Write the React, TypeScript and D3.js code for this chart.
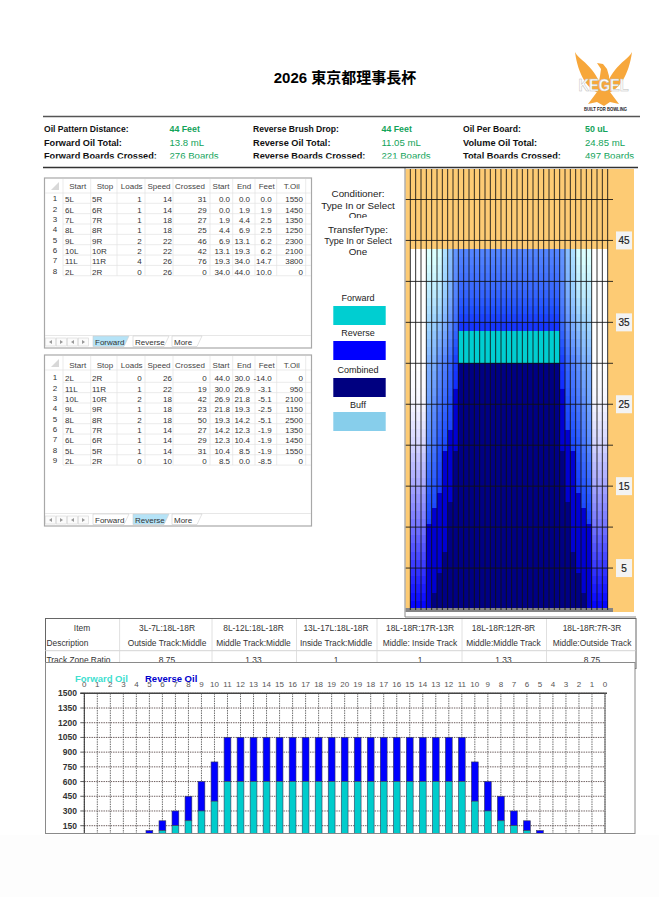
import React from 'react';
import * as d3 from 'd3';

const W = 659;
const H = 897;
const FONT = '"Liberation Sans", Arial, sans-serif';

// ---- header
const titleText = '2026 東京都理事長杯';
const infoLabels = [
  ['Oil Pattern Distance:', 'Reverse Brush Drop:', 'Oil Per Board:'],
  ['Forward Oil Total:', 'Reverse Oil Total:', 'Volume Oil Total:'],
  ['Forward Boards Crossed:', 'Reverse Boards Crossed:', 'Total Boards Crossed:'],
];
const infoValues = [
  ['44 Feet', '44 Feet', '50 uL'],
  ['13.8 mL', '11.05 mL', '24.85 mL'],
  ['276 Boards', '221 Boards', '497 Boards'],
];

// ---- load tables
const tableHeaders = ['Start', 'Stop', 'Loads', 'Speed', 'Crossed', 'Start', 'End', 'Feet', 'T.Oil'];

const fwdBoard = [5, 6, 7, 8, 9, 10, 11, 2];
const fwdLoads = [1, 1, 1, 1, 2, 2, 4, 0];
const fwdSpeed = [14, 14, 18, 18, 22, 22, 26, 26];
const fwdCrossed = [31, 29, 27, 25, 46, 42, 76, 0];
const fwdStart = [0.0, 0.0, 1.9, 4.4, 6.9, 13.1, 19.3, 34.0];
const fwdEnd = [0.0, 1.9, 4.4, 6.9, 13.1, 19.3, 34.0, 44.0];
const fwdFeet = [0.0, 1.9, 2.5, 2.5, 6.2, 6.2, 14.7, 10.0];
const fwdOil = [1550, 1450, 1350, 1250, 2300, 2100, 3800, 0];

const revBoard = [2, 11, 10, 9, 8, 7, 6, 5, 2];
const revLoads = [0, 1, 2, 1, 2, 1, 1, 1, 0];
const revSpeed = [26, 22, 18, 18, 18, 14, 14, 14, 10];
const revCrossed = [0, 19, 42, 23, 50, 27, 29, 31, 0];
const revStart = [44.0, 30.0, 26.9, 21.8, 19.3, 14.2, 12.3, 10.4, 8.5];
const revEnd = [30.0, 26.9, 21.8, 19.3, 14.2, 12.3, 10.4, 8.5, 0.0];
const revFeet = [-14.0, -3.1, -5.1, -2.5, -5.1, -1.9, -1.9, -1.9, -8.5];
const revOil = [0, 950, 2100, 1150, 2500, 1350, 1450, 1550, 0];

// ---- buff shade, 0 = white, 1 = full blue
const buffFeet = [44, 39, 34, 30, 25, 20, 15, 10, 5, 0];
const buffOuter = [0, 0, 0, 0, 0.04, 0.17, 0.35, 0.55, 0.79, 1];
const buffBoard5 = [0.17, 0.28, 0.4, 0.5, 0.55, 0.63, 0.75, 0.85, 0.9, 0.95];
const buffBoard6 = [0.17, 0.27, 0.42, 0.5, 0.6, 0.68, 0.78, 0.85, 0.9, 0.95];
const buffBoard7 = [0.2, 0.3, 0.47, 0.6, 0.68, 0.78, 0.85, 0.9, 0.95, 1];
const buffBoard8 = [0.33, 0.4, 0.52, 0.65, 0.73, 0.82, 0.88, 0.92, 0.95, 1];
const buffBoard9 = [0.45, 0.5, 0.62, 0.73, 0.8, 0.85, 0.9, 0.95, 1, 1];
const buffBoard10 = [0.58, 0.63, 0.73, 0.85, 0.92, 0.95, 1, 1, 1, 1];
const buffInner = [0.63, 0.72, 0.88, 0.95, 1, 1, 1, 1, 1, 1];

const footLabels = [45, 35, 25, 15, 5];
const footLines = [5, 10, 15, 20, 25, 30, 35, 40, 45, 50];

const legendItems = ['Forward', 'Reverse', 'Combined', 'Buff'];

// ---- track zone table
const trackItems = ['3L-7L:18L-18R', '8L-12L:18L-18R', '13L-17L:18L-18R', '18L-18R:17R-13R', '18L-18R:12R-8R', '18L-18R:7R-3R'];
const trackDescriptions = [
  'Outside Track:Middle',
  'Middle Track:Middle',
  'Inside Track:Middle',
  'Middle: Inside Track',
  'Middle:Middle Track',
  'Middle:Outside Track',
];
const trackRatios = ['8.75', '1.33', '1', '1', '1.33', '8.75'];

// ---- oil graph, board 0 to 20 and back to 0
const graphBoards = [0, 1, 2, 3, 4, 5, 6, 7, 8, 9, 10, 11, 12, 13, 14, 15, 16, 17, 18, 19, 20, 19, 18, 17, 16, 15, 14, 13, 12, 11, 10, 9, 8, 7, 6, 5, 4, 3, 2, 1, 0];
const graphForward = [0, 0, 0, 0, 0, 50, 100, 150, 200, 300, 400, 600, 600, 600, 600, 600, 600, 600, 600, 600, 600, 600, 600, 600, 600, 600, 600, 600, 600, 600, 400, 300, 200, 150, 100, 50, 0, 0, 0, 0, 0];
const graphReverse = [0, 0, 0, 0, 0, 50, 100, 150, 250, 300, 400, 450, 450, 450, 450, 450, 450, 450, 450, 450, 450, 450, 450, 450, 450, 450, 450, 450, 450, 450, 400, 300, 250, 150, 100, 50, 0, 0, 0, 0, 0];
const graphTicks = [150, 300, 450, 600, 750, 900, 1050, 1200, 1350, 1500];

const COLORS = {
  forward: '#00CED1',
  reverse: '#0000FF',
  combined: '#000080',
  buff: '#87CEEB',
  solid: '#0000D2',
  lane: '#000084',
  orange: '#FDCB74',
  green: '#12A35A',
};

// ---- heat map scales
const boardCols = d3.range(39);
const colX = d3.scaleLinear().domain([0, 39]).range([405, 613]);
const footY = d3.scaleLinear().domain([0, 50]).range([609, 199.5]);
const innerRamp = d3
  .scaleLinear<string>()
  .domain([0, 0.2, 0.4, 0.6, 0.8, 1])
  .range(['#ffffff', '#d8ffff', '#99d0ff', '#5f90ff', '#2050ff', '#0000ff']);
const outerRamp = d3
  .scaleLinear<string>()
  .domain([0, 0.33, 0.67, 1])
  .range(['#ffffff', '#aaaaff', '#5555ff', '#0000ff']);

const colBoard = (i: number) => (i <= 19 ? i + 1 : 39 - i);

const buffFor = (board: number) => {
  if (board <= 4) return buffOuter;
  if (board === 5) return buffBoard5;
  if (board === 6) return buffBoard6;
  if (board === 7) return buffBoard7;
  if (board === 8) return buffBoard8;
  if (board === 9) return buffBoard9;
  if (board === 10) return buffBoard10;
  return buffInner;
};

const oilReach = (boards: number[], oil: number[], feet: number[], board: number) =>
  d3.max(boards.map((b, i) => (b <= board && oil[i] > 0 ? feet[i] : 0))) || 0;

// ---- graph scales
const graphX = d3.scaleLinear().domain([0, 40]).range([84.3, 605]);
const graphY = d3.scaleLinear().domain([0, 1500]).range([840.4, 693.3]);

// ---- small parts
const colLines = [63, 90.7, 117, 145, 173, 210, 232.7, 255, 276.7, 305.7];
const headerX = [77.7, 105, 131.7, 159, 190, 221, 244, 266.7, 291.7];
const cellX = [65, 92, 141.7, 172, 206.7, 230, 250, 271.7, 303];

interface ITableProps {
  top: number;
  bottom: number;
  headerY: number;
  rowY: number;
  board: number[];
  loads: number[];
  speed: number[];
  crossed: number[];
  start: number[];
  end: number[];
  feet: number[];
  oil: number[];
  activeTab: string;
}

const LoadTable: React.FC<ITableProps> = ({ top, bottom, headerY, rowY, board, loads, speed, crossed, start, end, feet, oil, activeTab }) => {
  const step = 10.35;
  const tabTop = bottom - 12.5;
  const tabs = [
    { name: 'Forward', x: 93, w: 36 },
    { name: 'Reverse', x: 133, w: 36 },
    { name: 'More', x: 172, w: 30 },
  ];
  const lastRow = rowY + step * (board.length - 1) + 4;
  return (
    <g fontFamily={FONT} fontSize={8}>
      <rect x={44.5} y={top} width={267} height={bottom - top} fill="#fff" stroke="#a8a8a8" strokeWidth={1.2} />
      {colLines.map((x) => (
        <line key={x} x1={x} x2={x} y1={top + 1} y2={lastRow} stroke="#e2e2e2" strokeWidth={0.7} />
      ))}
      <line x1={45} x2={311} y1={top + 15} y2={top + 15} stroke="#e2e2e2" strokeWidth={0.7} />
      {board.map((_, r) => (
        <line key={r} x1={63} x2={311} y1={rowY + step * r + 4} y2={rowY + step * r + 4} stroke="#e2e2e2" strokeWidth={0.7} />
      ))}
      <path d={`M59 ${top + 4} L59 ${top + 12} L51 ${top + 12} Z`} fill="#d8d8d8" />
      {tableHeaders.map((h, i) => (
        <text key={i} x={headerX[i]} y={headerY + 3} textAnchor="middle" fill="#444">
          {h}
        </text>
      ))}
      {board.map((b, r) => {
        const y = rowY + step * r + 3;
        const cells = [
          `${b}L`,
          `${b}R`,
          `${loads[r]}`,
          `${speed[r]}`,
          `${crossed[r]}`,
          start[r].toFixed(1),
          end[r].toFixed(1),
          feet[r].toFixed(1),
          `${oil[r]}`,
        ];
        return (
          <g key={r} fill="#333">
            <text x={55} y={y - 1} textAnchor="middle">
              {r + 1}
            </text>
            {cells.map((c, i) => (
              <text key={i} x={cellX[i]} y={y} textAnchor={i < 2 ? 'start' : 'end'}>
                {c}
              </text>
            ))}
          </g>
        );
      })}
      <line x1={45} x2={311} y1={tabTop} y2={tabTop} stroke="#dcdcdc" strokeWidth={0.7} />
      {[45, 56, 67, 78].map((x, i) => (
        <g key={x}>
          <rect x={x + 0.5} y={tabTop + 2.5} width={10} height={8} fill="#fbfbfb" stroke="#d4d4d4" strokeWidth={0.6} />
          <path
            d={i % 2 === 0 ? `M${x + 7} ${tabTop + 4.5} L${x + 4} ${tabTop + 6.5} L${x + 7} ${tabTop + 8.5} Z` : `M${x + 4} ${tabTop + 4.5} L${x + 7} ${tabTop + 6.5} L${x + 4} ${tabTop + 8.5} Z`}
            fill="#999"
          />
        </g>
      ))}
      {tabs.map((t) => (
        <g key={t.name}>
          <path
            d={`M${t.x} ${tabTop + 0.5} L${t.x + t.w} ${tabTop + 0.5} L${t.x + t.w - 5} ${tabTop + 11} L${t.x} ${tabTop + 11} Z`}
            fill={t.name === activeTab ? '#B5E3F7' : '#fff'}
            stroke="#cfcfcf"
            strokeWidth={0.6}
          />
          <text x={t.x + 2} y={tabTop + 9} fill="#333" fontSize={8}>
            {t.name}
          </text>
        </g>
      ))}
    </g>
  );
};

const HeatMap: React.FC = () => {
  const feetRows = d3.range(44);
  return (
    <g>
      <rect x={405} y={169} width={229} height={443} fill={COLORS.orange} />
      {/* buff shading, one cell per foot */}
      <g shapeRendering="crispEdges">
        {boardCols
          .filter((i) => colBoard(i) >= 2)
          .map((i) => {
            const board = colBoard(i);
            const level = d3.scaleLinear().domain(buffFeet).range(buffFor(board));
            const ramp = board <= 4 ? outerRamp : innerRamp;
            return feetRows.map((f) => (
              <rect key={`${i}-${f}`} x={colX(i)} y={footY(f + 1)} width={colX(i + 1) - colX(i)} height={footY(f) - footY(f + 1)} fill={ramp(level(f + 0.5))} />
            ));
          })}
        {/* oil from the load tables */}
        {boardCols.map((i) => {
          const board = colBoard(i);
          const fwdTop = oilReach(fwdBoard, fwdOil, fwdEnd, board);
          const revTop = oilReach(revBoard, revOil, revStart, board);
          const x = colX(i);
          const w = colX(i + 1) - x;
          const both = Math.min(fwdTop, revTop);
          return (
            <g key={i}>
              {fwdTop > revTop && <rect x={x} y={footY(fwdTop)} width={w} height={footY(revTop) - footY(fwdTop)} fill={COLORS.forward} />}
              {revTop > fwdTop && <rect x={x} y={footY(revTop)} width={w} height={footY(fwdTop) - footY(revTop)} fill={COLORS.solid} />}
              {both > 0 && <rect x={x} y={footY(both)} width={w} height={footY(0) - footY(both)} fill={COLORS.lane} />}
            </g>
          );
        })}
      </g>
      <rect x={405} y={608} width={208} height={4} fill="#858585" />
      {d3.range(1, 39).map((i) => (
        <line key={i} x1={colX(i)} x2={colX(i)} y1={169} y2={610} stroke="#111" strokeWidth={1} strokeOpacity={0.85} />
      ))}
      {footLines.map((f) => (
        <line key={f} x1={405} x2={613} y1={footY(f)} y2={footY(f)} stroke="#111" strokeWidth={1} strokeOpacity={0.85} />
      ))}
      {footLabels.map((f) => (
        <g key={f}>
          <rect x={616} y={footY(f) - 9} width={16} height={18} fill="#f3f3f3" />
          <text x={624} y={footY(f) + 3.5} textAnchor="middle" fontFamily={FONT} fontSize={10} fill="#222" stroke="#222" strokeWidth={0.2}>
            {f}
          </text>
        </g>
      ))}
      <line x1={405} x2={405} y1={168} y2={617} stroke="#b0b0b0" strokeWidth={1.5} />
      <line x1={405} x2={636} y1={617} y2={617} stroke="#888" strokeWidth={1} />
    </g>
  );
};

const OilGraph: React.FC = () => {
  const barW = 6.8;
  return (
    <g clipPath="url(#graphClip)" fontFamily={FONT}>
      {graphTicks.map((t) => (
        <line key={t} x1={graphX(0)} x2={graphX(40)} y1={graphY(t)} y2={graphY(t)} stroke="#5a4a4a" strokeWidth={0.9} strokeDasharray="1.4 1" />
      ))}
      {graphBoards.map((_, i) => (
        <line key={i} x1={graphX(i)} x2={graphX(i)} y1={graphY(1500)} y2={840} stroke="#555" strokeWidth={0.9} strokeDasharray="1.4 1" />
      ))}
      {graphBoards.map((_, i) => {
        const f = graphForward[i];
        const r = graphReverse[i];
        if (f + r === 0) return null;
        return (
          <g key={i} stroke="#3a3a5a" strokeWidth={0.6}>
            <rect x={graphX(i) - barW / 2} y={graphY(f + r)} width={barW} height={graphY(f) - graphY(f + r)} fill={COLORS.reverse} />
            <rect x={graphX(i) - barW / 2} y={graphY(f)} width={barW} height={graphY(0) - graphY(f)} fill="#00CCCC" />
          </g>
        );
      })}
      <line x1={graphX(0) - 4} x2={graphX(40) + 2} y1={graphY(1500)} y2={graphY(1500)} stroke="#444" strokeWidth={1.4} />
      <line x1={graphX(0)} x2={graphX(0)} y1={graphY(1500)} y2={840} stroke="#333" strokeWidth={1} />
      <line x1={graphX(40)} x2={graphX(40)} y1={graphY(1500)} y2={840} stroke="#666" strokeWidth={1} />
      {graphTicks.map((t) => (
        <g key={t}>
          <line x1={graphX(0) - 4} x2={graphX(0)} y1={graphY(t)} y2={graphY(t)} stroke="#333" strokeWidth={0.8} />
          <text x={77} y={graphY(t) + 3} textAnchor="end" fontSize={8.5} fontWeight="bold" fill="#333">
            {t}
          </text>
        </g>
      ))}
      {graphBoards.map((b, i) => (
        <text key={i} x={graphX(i)} y={687} textAnchor="middle" fontSize={8} fill="#555">
          {b}
        </text>
      ))}
      <text x={75} y={682} fontSize={9.5} fontWeight="bold" fill="#40E0D0">
        Forward Oil
      </text>
      <text x={145} y={682} fontSize={9.5} fontWeight="bold" fill="#0000CD">
        Reverse Oil
      </text>
    </g>
  );
};

const Logo: React.FC = () => (
  <g>
    <path d="M575 52 C578 58 586 62 592 70 C595 74 597 77 599 81 L599 93 C588 90 578 75 575 52 Z" fill="#F7A73B" />
    <path d="M632 52 C629 58 621 62 615 70 C612 74 610 77 608 81 L608 93 C619 90 629 75 632 52 Z" fill="#F7A73B" />
    <path d="M597 63 L603 64 L607 69 L609 76 L610 92 L619 104 L610 102 L604 106 L597 102 L588 104 L597 92 L600 76 L601 69 Z" fill="#F7A73B" />
    <text x={603.5} y={91} textAnchor="middle" fontFamily={FONT} fontSize={16} fontWeight="bold" fill="#fff" stroke="#bdbdbd" strokeWidth={0.5} textLength={50} lengthAdjust="spacingAndGlyphs">
      KEGEL
    </text>
    <text x={605.5} y={111} textAnchor="middle" fontFamily={FONT} fontSize={5} fontWeight="bold" fill="#222" textLength={43} lengthAdjust="spacingAndGlyphs">
      BUILT FOR BOWLING
    </text>
  </g>
);

const App: React.FC = () => {
  const infoLabelX = [44, 253, 463];
  const infoValueX = [169.5, 381.5, 585];
  const infoY = [132, 145.5, 159];
  const trackX = [167, 253.5, 336, 420, 503.5, 592];
  const trackLines = [119.6, 212, 296.5, 377, 462, 546.5];
  const legendY = [306, 341, 378, 412];
  const legendTextY = [301, 336, 373, 408];
  const legendFill = [COLORS.forward, COLORS.reverse, COLORS.combined, COLORS.buff];

  return (
    <svg width={W} height={H} viewBox={`0 0 ${W} ${H}`} style={{ position: 'absolute', left: 0, top: 0, background: '#fff' }}>
      <defs>
        <clipPath id="infoClip">
          <rect x={0} y={100} width={W} height={58.5} />
        </clipPath>
        <clipPath id="oneClip">
          <rect x={320} y={180} width={85} height={38} />
        </clipPath>
        <clipPath id="trackClip">
          <rect x={40} y={615} width={600} height={47} />
        </clipPath>
        <clipPath id="graphClip">
          <rect x={46} y={664} width={589} height={169} />
        </clipPath>
      </defs>
      <rect x={0} y={835} width={W} height={62} fill="#fdfdfd" />

      <text x={345} y={83} textAnchor="middle" fontFamily='"Liberation Sans", "Noto Sans CJK JP", sans-serif' fontSize={15} fontWeight="bold" fill="#000">
        {titleText}
      </text>
      <Logo />

      <line x1={43} x2={640} y1={116.5} y2={116.5} stroke="#555" strokeWidth={1.6} />
      <g clipPath="url(#infoClip)" fontFamily={FONT}>
        {infoLabels.map((row, r) =>
          row.map((label, c) => (
            <g key={label}>
              <text x={infoLabelX[c]} y={infoY[r]} fontSize={r === 0 ? 8.6 : 9.2} fontWeight="bold" fill="#111">
                {label}
              </text>
              <text x={infoValueX[c]} y={infoY[r]} fontSize={r === 0 ? 8.8 : 9.6} fontWeight={r === 0 ? 'bold' : 'normal'} fill={COLORS.green}>
                {infoValues[r][c]}
              </text>
            </g>
          )),
        )}
      </g>
      <HeatMap />
      <line x1={43} x2={638} y1={167.5} y2={167.5} stroke="#333" strokeWidth={1.4} />

      <LoadTable top={178} bottom={348} headerY={186} rowY={199.3} board={fwdBoard} loads={fwdLoads} speed={fwdSpeed} crossed={fwdCrossed} start={fwdStart} end={fwdEnd} feet={fwdFeet} oil={fwdOil} activeTab="Forward" />
      <LoadTable top={355} bottom={526} headerY={365} rowY={378.3} board={revBoard} loads={revLoads} speed={revSpeed} crossed={revCrossed} start={revStart} end={revEnd} feet={revFeet} oil={revOil} activeTab="Reverse" />

      <g fontFamily={FONT} fontSize={9.8} fill="#222" textAnchor="middle">
        <text x={358} y={197}>Conditioner:</text>
        <text x={358} y={208.5}>Type In or Select</text>
        <text x={358} y={219} clipPath="url(#oneClip)">One</text>
        <text x={358} y={232.5}>TransferType:</text>
        <text x={358} y={243.5} fontSize={9}>Type In or Select</text>
        <text x={358} y={254.5}>One</text>
      </g>

      {legendItems.map((item, i) => (
        <g key={item}>
          <text x={358} y={legendTextY[i]} textAnchor="middle" fontFamily={FONT} fontSize={9} fill="#222">
            {item}
          </text>
          <rect x={333.3} y={legendY[i]} width={52.4} height={19} fill={legendFill[i]} />
        </g>
      ))}

      <g fontFamily={FONT} fontSize={8.4} fill="#333">
        <rect x={45.5} y={618.5} width={590.5} height={50} fill="#fff" stroke="#666" strokeWidth={1} />
        <line x1={45} x2={636} y1={650.7} y2={650.7} stroke="#c8c8c8" strokeWidth={0.8} />
        {trackLines.map((x) => (
          <line key={x} x1={x} x2={x} y1={619} y2={662} stroke="#d8d8d8" strokeWidth={0.8} />
        ))}
        <g clipPath="url(#trackClip)">
          <text x={82} y={631} textAnchor="middle">Item</text>
          <text x={46.5} y={646}>Description</text>
          <text x={46.5} y={662.5}>Track Zone Ratio</text>
          {trackItems.map((t, i) => (
            <g key={i} textAnchor="middle">
              <text x={trackX[i]} y={631}>{t}</text>
              <text x={trackX[i]} y={646}>{trackDescriptions[i]}</text>
              <text x={trackX[i]} y={662.5}>{trackRatios[i]}</text>
            </g>
          ))}
        </g>
      </g>

      <rect x={45.5} y={662.5} width={589.5} height={171} fill="#fff" stroke="#8a8a8a" strokeWidth={1} />
      <OilGraph />
    </svg>
  );
};

export default App;
